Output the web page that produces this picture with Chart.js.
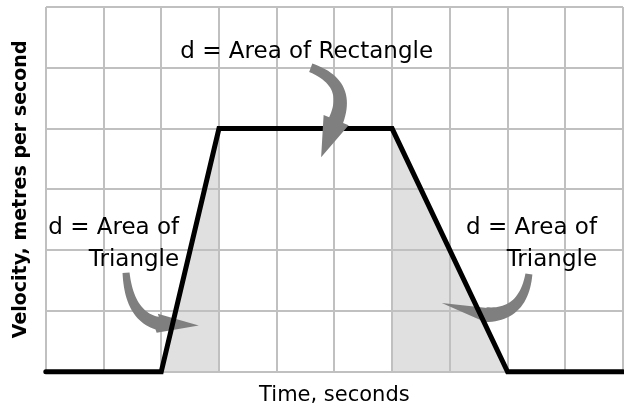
<!DOCTYPE html>
<html lang="en">
<head>
<meta charset="UTF-8">
<title>Velocity-time graph</title>
<script src="https://cdn.jsdelivr.net/npm/chart.js"></script>
<style>
  html, body { margin: 0; padding: 0; background: #fff; }
  #wrap { width: 624px; height: 408px; }
</style>
</head>
<body>
<div id="wrap"><canvas id="vtChart"></canvas></div>
<script>
  // values
  const timeSeconds = [0, 2, 3, 6, 8, 10];
  const velocity = [0, 0, 4, 4, 0, 0];
  const timeTicks = [0, 1, 2, 3, 4, 5, 6, 7, 8, 9, 10];
  const velocityTicks = [0, 1, 2, 3, 4, 5, 6];

  // shaded triangles = the accelerating and slowing parts of the line
  const accelTime = timeSeconds.slice(1, 3);
  const accelVel = velocity.slice(1, 3);
  const decelTime = timeSeconds.slice(3, 5);
  const decelVel = velocity.slice(3, 5);

  const toPoints = (xs, ys) => xs.map((x, i) => ({ x: x, y: ys[i] }));

  // text notes and curved arrows, placed in graph units
  const notes = [
    { lines: ['d = Area of Rectangle'], x: 4.52, y: 5.26, align: 'center' },
    { lines: ['d = Area of', 'Triangle'], x: 2.31, y: 2.37, align: 'right' },
    { lines: ['d = Area of', 'Triangle'], x: 9.55, y: 2.37, align: 'right' }
  ];
  const arrows = [
    { from: [4.59, 5.0], bend: [5.29, 4.75], to: [5.03, 4.14], tip: [4.77, 3.53], w0: 9, w1: 15, head: 27, onTop: true },
    { from: [1.39, 1.63], bend: [1.45, 0.92], to: [1.93, 0.80], tip: [2.65, 0.76], w0: 7, w1: 13, head: 19 },
    { from: [8.37, 1.61], bend: [8.27, 0.92], to: [7.62, 0.94], tip: [6.86, 1.13], w0: 7, w1: 15, head: 14 }
  ];

  const FONT = '"DejaVu Sans", sans-serif';

  function drawArrow(ctx, sx, sy, a) {
    const p0 = [sx.getPixelForValue(a.from[0]), sy.getPixelForValue(a.from[1])];
    const c = [sx.getPixelForValue(a.bend[0]), sy.getPixelForValue(a.bend[1])];
    const p1 = [sx.getPixelForValue(a.to[0]), sy.getPixelForValue(a.to[1])];
    const tip = [sx.getPixelForValue(a.tip[0]), sy.getPixelForValue(a.tip[1])];
    const left = [], right = [];
    const n = 24;
    for (let i = 0; i <= n; i++) {
      const t = i / n, u = 1 - t;
      const px = u * u * p0[0] + 2 * u * t * c[0] + t * t * p1[0];
      const py = u * u * p0[1] + 2 * u * t * c[1] + t * t * p1[1];
      let dx = 2 * u * (c[0] - p0[0]) + 2 * t * (p1[0] - c[0]);
      let dy = 2 * u * (c[1] - p0[1]) + 2 * t * (p1[1] - c[1]);
      const len = Math.hypot(dx, dy) || 1;
      dx /= len; dy /= len;
      const w = (a.w0 + (a.w1 - a.w0) * t) / 2;
      left.push([px - dy * w, py + dx * w]);
      right.push([px + dy * w, py - dx * w]);
    }
    let hx = tip[0] - p1[0], hy = tip[1] - p1[1];
    const hl = Math.hypot(hx, hy) || 1;
    hx /= hl; hy /= hl;
    const hw = a.head / 2;
    ctx.beginPath();
    ctx.moveTo(left[0][0], left[0][1]);
    left.forEach(p => ctx.lineTo(p[0], p[1]));
    ctx.lineTo(p1[0] - hy * hw, p1[1] + hx * hw);
    ctx.lineTo(tip[0], tip[1]);
    ctx.lineTo(p1[0] + hy * hw, p1[1] - hx * hw);
    for (let i = right.length - 1; i >= 0; i--) ctx.lineTo(right[i][0], right[i][1]);
    ctx.closePath();
    ctx.fillStyle = '#7f7f7f';
    ctx.fill();
  }

  const notesPlugin = {
    id: 'notes',
    beforeDatasetsDraw(chart) {
      const { ctx, scales: { x, y } } = chart;
      ctx.save();
      arrows.filter(a => !a.onTop).forEach(a => drawArrow(ctx, x, y, a));
      ctx.restore();
    },
    afterDatasetsDraw(chart) {
      const { ctx, scales: { x, y } } = chart;
      ctx.save();
      arrows.filter(a => a.onTop).forEach(a => drawArrow(ctx, x, y, a));
      ctx.font = '23px ' + FONT;
      ctx.fillStyle = '#000';
      ctx.textBaseline = 'middle';
      notes.forEach(note => {
        ctx.textAlign = note.align;
        const px = x.getPixelForValue(note.x);
        const py = y.getPixelForValue(note.y);
        note.lines.forEach((line, i) => ctx.fillText(line, px, py + i * 32));
      });
      ctx.restore();
    }
  };

  new Chart(document.getElementById('vtChart'), {
    type: 'line',
    data: {
      datasets: [{
        data: toPoints(timeSeconds, velocity),
        borderColor: '#000',
        borderWidth: 5,
        borderCapStyle: 'round',
        borderJoinStyle: 'miter',
        pointRadius: 0,
        fill: false,
        clip: false
      }, {
        data: toPoints(accelTime, accelVel),
        borderWidth: 0,
        pointRadius: 0,
        backgroundColor: '#e0e0e0',
        fill: 'origin'
      }, {
        data: toPoints(decelTime, decelVel),
        borderWidth: 0,
        pointRadius: 0,
        backgroundColor: '#e0e0e0',
        fill: 'origin'
      }]
    },
    options: {
      responsive: true,
      maintainAspectRatio: false,
      animation: false,
      layout: { padding: { left: 4, right: 1, top: 7, bottom: 0 } },
      plugins: {
        legend: { display: false },
        tooltip: { enabled: false },
        filler: { drawTime: 'beforeDraw' }
      },
      scales: {
        x: {
          type: 'linear',
          min: timeTicks[0],
          max: timeTicks[timeTicks.length - 1],
          afterBuildTicks: s => { s.ticks = timeTicks.map(v => ({ value: v })); },
          ticks: { display: false },
          border: { display: false },
          grid: { color: '#c0c0c0', lineWidth: 2, drawTicks: false },
          title: {
            display: true,
            text: 'Time, seconds',
            color: '#000',
            font: { family: FONT, size: 21 },
            padding: { top: 11, bottom: 0 }
          }
        },
        y: {
          min: velocityTicks[0],
          max: velocityTicks[velocityTicks.length - 1],
          afterBuildTicks: s => { s.ticks = velocityTicks.map(v => ({ value: v })); },
          ticks: { display: false },
          border: { display: false },
          grid: { color: '#c0c0c0', lineWidth: 2, drawTicks: false },
          title: {
            display: true,
            text: 'Velocity, metres per second',
            color: '#000',
            font: { family: FONT, size: 19, weight: 'bold' },
            padding: { top: 6, bottom: 13 }
          }
        }
      }
    },
    plugins: [notesPlugin]
  });
</script>
</body>
</html>
